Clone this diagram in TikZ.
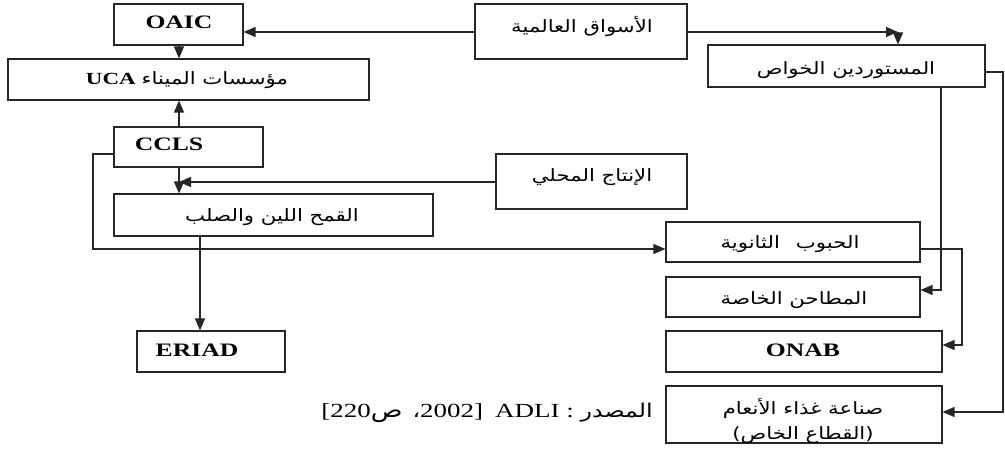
\documentclass[tikz,border=0pt]{standalone}
\usepackage{fontspec}
\setmainfont{Liberation Serif}[FakeStretch=1.35]
\newfontfamily\arab[Script=Arabic,FakeStretch=1.25]{DejaVu Sans}
\TeXXeTstate=1
\usetikzlibrary{arrows.meta}
\begin{document}
\begin{tikzpicture}[x=1pt,y=-1pt,
  box/.style={draw=black!85, line width=1.1pt, inner sep=0pt, anchor=center},
  lat/.style={font=\fontsize{19}{21}\selectfont\bfseries, inner sep=0pt},
  ar/.style={font=\fontsize{17}{25}\selectfont\arab, inner sep=0pt, align=center},
  arr/.style={draw=black!85, line width=1.2pt, -{Triangle[length=12pt,width=10pt]}},
  ln/.style={draw=black!85, line width=1.2pt}]
\useasboundingbox (0,0) rectangle (1005,454);
% boxes
\node[box, minimum width=129pt, minimum height=41pt] (oaic) at (178.5,24.5) {};
\node[box, minimum width=361pt, minimum height=41pt] (uca) at (188.5,79.5) {};
\node[box, minimum width=149pt, minimum height=40pt] (ccls) at (188.5,147) {};
\node[box, minimum width=319pt, minimum height=42pt] (wheat) at (273.5,215) {};
\node[box, minimum width=148pt, minimum height=41pt] (eriad) at (211,351.5) {};
\node[box, minimum width=212pt, minimum height=55pt] (world) at (581,31.5) {};
\node[box, minimum width=277pt, minimum height=42pt] (imp) at (846.5,66) {};
\node[box, minimum width=191pt, minimum height=55pt] (local) at (591.5,181.5) {};
\node[box, minimum width=254pt, minimum height=40pt] (sec) at (793,242) {};
\node[box, minimum width=254pt, minimum height=40pt] (mills) at (793,297) {};
\node[box, minimum width=276pt, minimum height=41pt] (onab) at (804,351.5) {};
\node[box, minimum width=276pt, minimum height=57pt] (feed) at (804,414.5) {};
% labels
\node[lat] (oaic-t) at (179,22) {OAIC};
\node[ar] (uca-t) at (187,80) {\beginR مؤسسات الميناء\hspace{6pt}\beginL{\rmfamily\bfseries\fontsize{17}{21}\selectfont UCA}\endL\endR};
\node[lat] (ccls-t) at (169,144) {CCLS};
\node[ar] (wheat-t) at (272,217) {\beginR القمح اللين والصلب\endR};
\node[lat] (eriad-t) at (197,350) {ERIAD};
\node[ar] (world-t) at (582,26) {\beginR الأسواق العالمية\endR};
\node[ar] (imp-t) at (846,70) {\beginR المستوردين الخواص\endR};
\node[ar] (local-t) at (592,177) {\beginR الإنتاج المحلي\endR};
\node[ar] (sec-t) at (790,244) {\beginR الحبوب\hspace{16pt}الثانوية\endR};
\node[ar] (mills-t) at (794,300) {\beginR المطاحن الخاصة\endR};
\node[lat] (onab-t) at (803,350) {ONAB};
\node[ar] (feed-t) at (803,421) {\beginR صناعة غذاء الأنعام\endR\\[0pt]\beginR (القطاع الخاص)\endR};
\node[anchor=east, inner sep=0pt, font=\fontsize{20}{22}\selectfont] (src) at (653,413)
  {[220{\arab\fontsize{21}{22}\selectfont ص}\hspace{10pt}{\arab\fontsize{19}{22}\selectfont ،}2002]\hspace{12pt}ADLI : {\arab\fontsize{19}{22}\selectfont\beginR المصدر\endR}};
% helper coordinates
\coordinate (xa) at (179,0);
\coordinate (xe) at (200,0);
\coordinate (lp) at (0,182);
\coordinate (c1) at (93,154);
\coordinate (c2) at (93,249);
\coordinate (wc) at (898,32);
\coordinate (r1) at (1003,72);
\coordinate (r2) at (1003,412);
\coordinate (m1) at (941,290);
\coordinate (s1) at (962,249);
\coordinate (s2) at (962,345);
% connectors
\draw[arr] (world.west |- wc) -- (oaic.east |- wc);
\draw[arr] (oaic.south -| xa) -- (uca.north -| xa);
\draw[arr] (ccls.north -| xa) -- (uca.south -| xa);
\draw[arr] (ccls.south -| xa) -- (wheat.north -| xa);
\draw[arr] (local.west |- lp) -- (xa |- lp);
\draw[arr] (ccls.west |- c1) -- (c1) -- (c2) -- (sec.west |- c2);
\draw[arr] (wheat.south -| xe) -- (eriad.north -| xe);
\draw[arr] (world.east |- wc) -- (wc);
\draw[arr] (wc) -- (wc |- imp.north);
\draw[arr] (imp.east |- r1) -- (r1) -- (r2) -- (feed.east |- r2);
\draw[arr] (imp.south -| m1) -- (m1) -- (mills.east |- m1);
\draw[arr] (sec.east |- s1) -- (s1) -- (s2) -- (onab.east |- s2);
\end{tikzpicture}
\end{document}
